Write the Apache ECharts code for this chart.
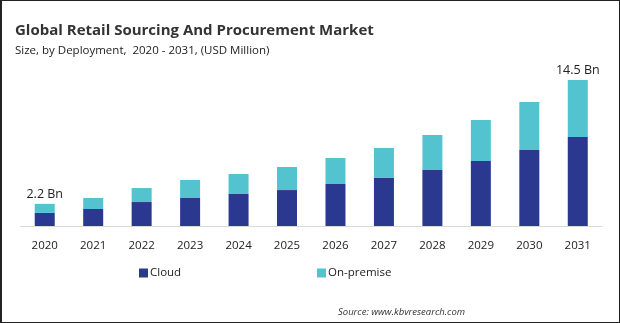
<!DOCTYPE html>
<html>
<head>
<meta charset="utf-8">
<script src="https://cdn.jsdelivr.net/npm/echarts@6/dist/echarts.min.js"></script>
<style>
html,body{margin:0;padding:0;background:#fff;}
#wrap{position:relative;width:620px;height:323px;}
#chart{width:620px;height:323px;}
#frame{position:absolute;left:0;top:0;width:620px;height:323px;box-sizing:border-box;border:1.5px solid #222;border-left-width:2px;pointer-events:none;}
</style>
</head>
<body>
<div id="wrap"><div id="chart"></div><div id="frame"></div></div>
<script>
const years = ['2020','2021','2022','2023','2024','2025','2026','2027','2028','2029','2030','2031'];
const cloud = [1300,1690,2380,2780,3180,3570,4170,4770,5560,6450,7550,8840];
const onPremise = [900,1090,1390,1790,1980,2290,2580,2980,3480,4080,4760,5660];
const endLabels = {0:'2.2 Bn', 11:'14.5 Bn'};

const chart = echarts.init(document.getElementById('chart'));
const font = '"Open Sans", "Noto Sans", sans-serif';
chart.setOption({
  animation:false,
  backgroundColor:'#fff',
  title:[
    {text:'Global Retail Sourcing And Procurement Market', left:10, top:18,
     textStyle:{fontFamily:font, fontSize:15, fontWeight:'bold', color:'#333'}},
    {text:'Size, by Deployment,  2020 - 2031, (USD Million)', left:10, top:40,
     textStyle:{fontFamily:font, fontSize:11.5, fontWeight:'normal', color:'#222'}},
    {text:'Source: www.kbvresearch.com', left:333, top:302,
     textStyle:{fontFamily:font, fontSize:9.5, fontStyle:'italic', fontWeight:'normal', color:'#333'}}
  ],
  legend:[
    {data:['Cloud'], left:134, top:262, itemWidth:9, itemHeight:9, itemGap:4,
     icon:'rect', textStyle:{fontFamily:font, fontSize:11.5, color:'#222', padding:[0,0,0,-3]}},
    {data:['On-premise'], left:312, top:262, itemWidth:9, itemHeight:9,
     icon:'rect', textStyle:{fontFamily:font, fontSize:11.5, color:'#222', padding:[0,0,0,-3]}}
  ],
  grid:{left:20.5, right:18, top:24.6, bottom:97, containLabel:false},
  xAxis:{type:'category', data:years,
    axisLine:{lineStyle:{color:'#d9d9d9', width:1}},
    axisTick:{show:false},
    axisLabel:{fontFamily:font, fontSize:11.5, color:'#222', margin:14}},
  yAxis:{type:'value', min:0, max:20000, show:false, splitLine:{show:false}},
  series:[
    {name:'Cloud', type:'bar', stack:'a', data:cloud, barWidth:20,
     itemStyle:{color:'#2b388f'}},
    {name:'On-premise', type:'bar', stack:'a', data:onPremise, barWidth:20,
     itemStyle:{color:'#52c3cf'},
     label:{show:true, position:'top', distance:3, fontFamily:font, fontSize:12.5, color:'#222',
       formatter:p => endLabels[p.dataIndex] || ''}}
  ]
});
</script>
</body>
</html>
